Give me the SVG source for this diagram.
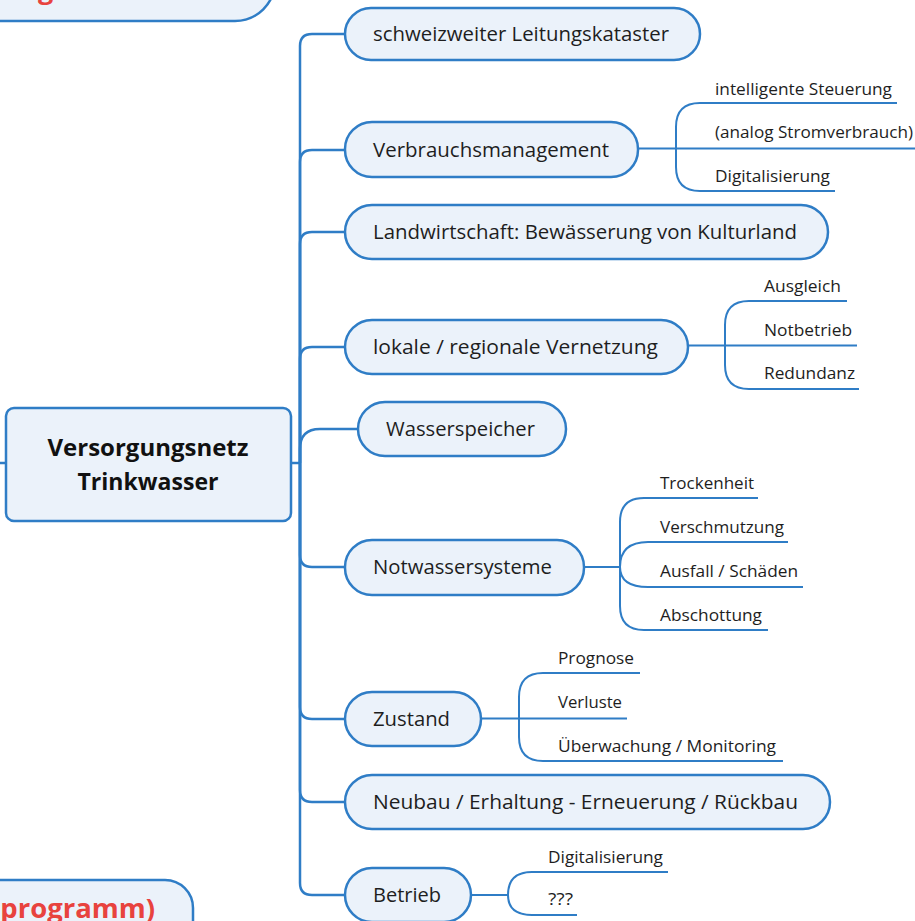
<svg xmlns="http://www.w3.org/2000/svg" width="915" height="921" viewBox="0 0 915 921">
  <style>
    .box { fill: #ebf2fa; stroke: #2f7dc6; stroke-width: 2.5; }
    .conn path { fill: none; stroke: #2f7dc6; stroke-width: 2.5; }
    .conn .sub { stroke-width: 2; }
    .t { font-family: "Open Sans", "Noto Sans", "Liberation Sans", sans-serif; font-size: 19.5px; fill: #1e1e1e; }
    .s { font-family: "Open Sans", "Noto Sans", "Liberation Sans", sans-serif; font-size: 16.5px; fill: #1e1e1e; }
    .main { font-family: "Open Sans", "Noto Sans", "Liberation Sans", sans-serif; font-size: 22.5px; font-weight: bold; fill: #111; }
    .red { font-family: "Open Sans", "Noto Sans", "Liberation Sans", sans-serif; font-size: 27px; font-weight: bold; fill: #e8433e; }
  </style>

  <rect width="915" height="921" fill="#ffffff"/>

  <!-- neighbouring topics, partly outside the view -->
  <g id="topic-top-left">
    <rect class="box" x="-40" y="-60" width="315" height="81" rx="40" ry="40"/>
    <text class="red" x="38" y="-1">g</text>
  </g>
  <g id="topic-bottom-left">
    <rect class="box" x="-40" y="880" width="233" height="80" rx="28" ry="28"/>
    <text class="red" x="-9" y="918" textLength="164" lengthAdjust="spacingAndGlyphs">(programm)</text>
  </g>

  <!-- connectors -->
  <g id="connectors" class="conn">
    <!-- stub to the parent on the left -->
    <path d="M0,463 H6"/>
    <!-- trunk from the central topic to the main branches -->
    <path d="M291,463 H300"/>
    <path d="M300,463 V46 Q300,34 312,34 H345"/>
    <path d="M300,463 V162 Q300,150 312,150 H345"/>
    <path d="M300,463 V244 Q300,232 312,232 H345"/>
    <path d="M300,463 V359 Q300,347 312,347 H345"/>
    <path d="M300,463 V449 Q300,429 320,429 H358"/>
    <path d="M300,463 V555 Q300,567 312,567 H345"/>
    <path d="M300,463 V707 Q300,719 312,719 H345"/>
    <path d="M300,463 V790 Q300,802 312,802 H345"/>
    <path d="M300,463 V883 Q300,895 312,895 H345"/>

    <!-- Verbrauchsmanagement -->
    <path class="sub" d="M638,148.5 H915"/>
    <path class="sub" d="M676,148.5 V127 Q676,103 700,103 H897"/>
    <path class="sub" d="M676,148.5 V167 Q676,191 700,191 H835"/>

    <!-- lokale / regionale Vernetzung -->
    <path class="sub" d="M688,345.5 H857"/>
    <path class="sub" d="M725,345.5 V325 Q725,301 749,301 H847"/>
    <path class="sub" d="M725,345.5 V365 Q725,389 749,389 H859"/>

    <!-- Notwassersysteme -->
    <path class="sub" d="M584,567 H620"/>
    <path class="sub" d="M620,567 V522 Q620,498 644,498 H758"/>
    <path class="sub" d="M620,567 Q620,542 648,542 H788"/>
    <path class="sub" d="M620,567 Q620,587 648,587 H803"/>
    <path class="sub" d="M620,567 V606 Q620,630 644,630 H768"/>

    <!-- Zustand -->
    <path class="sub" d="M481,718.5 H627"/>
    <path class="sub" d="M519,718.5 V697 Q519,673 543,673 H640"/>
    <path class="sub" d="M519,718.5 V737 Q519,761 543,761 H783"/>

    <!-- Betrieb -->
    <path class="sub" d="M471,895 H508"/>
    <path class="sub" d="M508,895 Q508,872 532,872 H668"/>
    <path class="sub" d="M508,895 Q508,915 532,915 H577"/>
  </g>

  <!-- central topic -->
  <g id="central">
    <rect class="box" x="6" y="408" width="285" height="113" rx="8" ry="8"/>
    <text class="main" x="148" y="456" text-anchor="middle" textLength="201" lengthAdjust="spacingAndGlyphs">Versorgungsnetz</text>
    <text class="main" x="148" y="490" text-anchor="middle" textLength="141" lengthAdjust="spacingAndGlyphs">Trinkwasser</text>
  </g>

  <!-- main topics -->
  <g id="leitungskataster">
    <rect class="box" x="345" y="8" width="355" height="52" rx="26"/>
    <text class="t" x="373" y="41" textLength="296" lengthAdjust="spacingAndGlyphs">schweizweiter Leitungskataster</text>
  </g>
  <g id="verbrauchsmanagement">
    <rect class="box" x="345" y="122" width="293" height="55" rx="27"/>
    <text class="t" x="373" y="157" textLength="236" lengthAdjust="spacingAndGlyphs">Verbrauchsmanagement</text>
  </g>
  <g id="landwirtschaft">
    <rect class="box" x="345" y="205" width="483" height="54" rx="27"/>
    <text class="t" x="373" y="239" textLength="424" lengthAdjust="spacingAndGlyphs">Landwirtschaft: Bewässerung von Kulturland</text>
  </g>
  <g id="vernetzung">
    <rect class="box" x="345" y="320" width="343" height="54" rx="27"/>
    <text class="t" x="373" y="354" textLength="285" lengthAdjust="spacingAndGlyphs">lokale / regionale Vernetzung</text>
  </g>
  <g id="wasserspeicher">
    <rect class="box" x="358" y="402" width="208" height="54" rx="27"/>
    <text class="t" x="386" y="436" textLength="149" lengthAdjust="spacingAndGlyphs">Wasserspeicher</text>
  </g>
  <g id="notwassersysteme">
    <rect class="box" x="345" y="540" width="239" height="55" rx="27"/>
    <text class="t" x="373" y="574" textLength="179" lengthAdjust="spacingAndGlyphs">Notwassersysteme</text>
  </g>
  <g id="zustand">
    <rect class="box" x="345" y="692" width="136" height="54" rx="27"/>
    <text class="t" x="373" y="726" textLength="77" lengthAdjust="spacingAndGlyphs">Zustand</text>
  </g>
  <g id="neubau">
    <rect class="box" x="345" y="775" width="485" height="54" rx="27"/>
    <text class="t" x="373" y="809" textLength="425" lengthAdjust="spacingAndGlyphs">Neubau / Erhaltung - Erneuerung / Rückbau</text>
  </g>
  <g id="betrieb">
    <rect class="box" x="345" y="868" width="126" height="54" rx="27"/>
    <text class="t" x="373" y="902" textLength="68" lengthAdjust="spacingAndGlyphs">Betrieb</text>
  </g>

  <!-- subtopics -->
  <g id="sub-steuerung"><text class="s" x="715" y="95" textLength="177" lengthAdjust="spacingAndGlyphs">intelligente Steuerung</text></g>
  <g id="sub-strom"><text class="s" x="715" y="138" textLength="198" lengthAdjust="spacingAndGlyphs">(analog Stromverbrauch)</text></g>
  <g id="sub-digital-1"><text class="s" x="715" y="182" textLength="115" lengthAdjust="spacingAndGlyphs">Digitalisierung</text></g>

  <g id="sub-ausgleich"><text class="s" x="764" y="292" textLength="77" lengthAdjust="spacingAndGlyphs">Ausgleich</text></g>
  <g id="sub-notbetrieb"><text class="s" x="764" y="336" textLength="88" lengthAdjust="spacingAndGlyphs">Notbetrieb</text></g>
  <g id="sub-redundanz"><text class="s" x="764" y="379" textLength="91" lengthAdjust="spacingAndGlyphs">Redundanz</text></g>

  <g id="sub-trockenheit"><text class="s" x="660" y="489" textLength="94" lengthAdjust="spacingAndGlyphs">Trockenheit</text></g>
  <g id="sub-verschmutzung"><text class="s" x="660" y="533" textLength="124" lengthAdjust="spacingAndGlyphs">Verschmutzung</text></g>
  <g id="sub-ausfall"><text class="s" x="660" y="577" textLength="138" lengthAdjust="spacingAndGlyphs">Ausfall / Schäden</text></g>
  <g id="sub-abschottung"><text class="s" x="660" y="621" textLength="102" lengthAdjust="spacingAndGlyphs">Abschottung</text></g>

  <g id="sub-prognose"><text class="s" x="558" y="664" textLength="76" lengthAdjust="spacingAndGlyphs">Prognose</text></g>
  <g id="sub-verluste"><text class="s" x="558" y="708" textLength="64" lengthAdjust="spacingAndGlyphs">Verluste</text></g>
  <g id="sub-monitoring"><text class="s" x="558" y="752" textLength="218" lengthAdjust="spacingAndGlyphs">Überwachung / Monitoring</text></g>

  <g id="sub-digital-2"><text class="s" x="548" y="863" textLength="115" lengthAdjust="spacingAndGlyphs">Digitalisierung</text></g>
  <g id="sub-fragen"><text class="s" x="548" y="905" textLength="25" lengthAdjust="spacingAndGlyphs">???</text></g>
</svg>
